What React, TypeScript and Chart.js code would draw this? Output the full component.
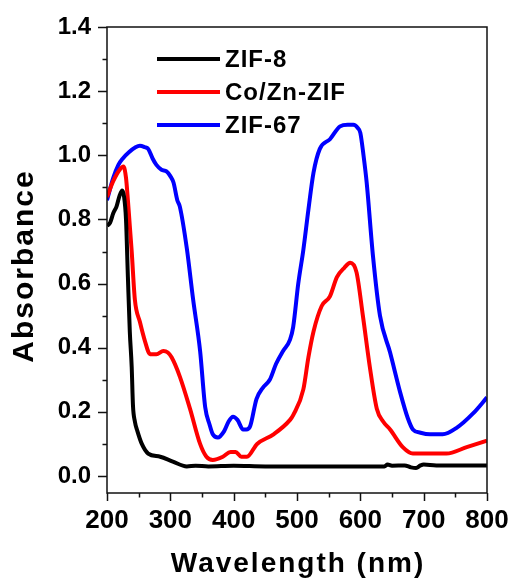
import React, { useEffect, useRef } from "react";
import { Chart, registerables } from "chart.js";

Chart.register(...registerables);

const FONT = "'Liberation Sans', Arial, sans-serif";

const SERIES_LABELS = ["ZIF-8", "Co/Zn-ZIF", "ZIF-67"];
const SERIES_COLORS = ["#000000", "#ff0000", "#0000ff"];

const X_TICKS = [200, 250, 300, 350, 400, 450, 500, 550, 600, 650, 700, 750, 800];
const Y_TICKS = [0, 0.1, 0.2, 0.3, 0.4, 0.5, 0.6, 0.7, 0.8, 0.9, 1.0, 1.1, 1.2, 1.3, 1.4];

const X_TITLE = "Wavelength (nm)";
const Y_TITLE = "Absorbance";

// ZIF-8
const zif8Wl = [200, 205, 210, 215, 220, 224, 227, 230, 233, 236, 239, 241, 244, 248, 255, 265, 284, 304, 326, 340, 360, 400, 450, 500, 550, 600, 638, 643, 650, 670, 680, 688, 695, 700, 720, 800];
const zif8Abs = [0.78, 0.79, 0.82, 0.84, 0.875, 0.89, 0.87, 0.8, 0.62, 0.45, 0.34, 0.22, 0.17, 0.14, 0.1, 0.07, 0.06, 0.045, 0.03, 0.032, 0.03, 0.032, 0.03, 0.03, 0.03, 0.03, 0.03, 0.036, 0.032, 0.033, 0.027, 0.025, 0.033, 0.036, 0.033, 0.033];

// Co/Zn-ZIF
const coznWl = [200, 210, 220, 226, 230, 233, 236, 239, 244, 252, 260, 268, 278, 289, 296, 302, 315, 331, 347, 357, 367, 383, 395, 403, 412, 421, 437, 463, 489, 494, 510, 518, 526, 539, 552, 563, 575, 584, 594, 604, 615, 626, 636, 647, 667, 683, 710, 736, 768, 800];
const coznAbs = [0.87, 0.92, 0.955, 0.965, 0.93, 0.86, 0.78, 0.7, 0.55, 0.48, 0.42, 0.38, 0.38, 0.39, 0.385, 0.37, 0.31, 0.21, 0.1, 0.06, 0.05, 0.06, 0.075, 0.075, 0.06, 0.06, 0.1, 0.13, 0.175, 0.19, 0.27, 0.37, 0.45, 0.53, 0.56, 0.62, 0.65, 0.665, 0.635, 0.5, 0.34, 0.21, 0.17, 0.145, 0.09, 0.07, 0.07, 0.07, 0.09, 0.11];

// ZIF-67
const zif67Wl = [200, 210, 218, 225, 235, 245, 252, 260, 265, 272, 278, 286, 294, 300, 305, 311, 315, 326, 336, 347, 355, 362, 367, 375, 385, 392, 399, 406, 415, 420, 426, 436, 446, 457, 467, 478, 489, 494, 502, 510, 518, 526, 536, 552, 568, 580, 589, 596, 600, 605, 610, 620, 631, 647, 663, 675, 683, 695, 710, 730, 752, 778, 800];
const zif67Abs = [0.86, 0.93, 0.97, 0.99, 1.01, 1.025, 1.03, 1.025, 1.02, 0.99, 0.97, 0.955, 0.95, 0.935, 0.915, 0.86, 0.84, 0.71, 0.55, 0.39, 0.215, 0.16, 0.13, 0.12, 0.14, 0.17, 0.185, 0.175, 0.145, 0.145, 0.155, 0.24, 0.275, 0.3, 0.35, 0.39, 0.425, 0.465, 0.6, 0.705, 0.83, 0.945, 1.02, 1.05, 1.09, 1.095, 1.095, 1.085, 1.07, 1.0, 0.915, 0.685, 0.5, 0.385, 0.26, 0.18, 0.145, 0.135, 0.13, 0.13, 0.15, 0.195, 0.245];

const SERIES_X = [zif8Wl, coznWl, zif67Wl];
const SERIES_Y = [zif8Abs, coznAbs, zif67Abs];

const decorPlugin = {
  id: "decor",
  afterDraw(chart: any) {
    const { ctx, chartArea: a, scales } = chart;
    ctx.save();
    ctx.strokeStyle = "#111";
    ctx.lineWidth = 1.5;
    ctx.strokeRect(a.left, a.top, a.right - a.left, a.bottom - a.top);
    ctx.beginPath();
    X_TICKS.forEach((v) => {
      const px = Math.round(scales.x.getPixelForValue(v)) + 0.5;
      const major = v % 100 === 0;
      ctx.moveTo(px, a.bottom);
      ctx.lineTo(px, a.bottom + (major ? 8 : 4.5));
    });
    Y_TICKS.forEach((v) => {
      const py = Math.round(scales.y.getPixelForValue(v)) + 0.5;
      const major = Math.round(v * 10) % 2 === 0;
      ctx.moveTo(a.left, py);
      ctx.lineTo(a.left - (major ? 9 : 4.5), py);
    });
    ctx.stroke();

    // legend
    const legendY = [59, 92, 125];
    SERIES_LABELS.forEach((lab, i) => {
      ctx.strokeStyle = SERIES_COLORS[i];
      ctx.lineWidth = 4;
      ctx.beginPath();
      ctx.moveTo(157, legendY[i]);
      ctx.lineTo(220, legendY[i]);
      ctx.stroke();
      ctx.fillStyle = "#000";
      ctx.font = `bold 24px ${FONT}`;
      (ctx as any).letterSpacing = "1px";
      ctx.textAlign = "left";
      ctx.textBaseline = "middle";
      ctx.fillText(lab, 225, legendY[i] + 1);
    });

    // axis titles
    ctx.fillStyle = "#000";
    ctx.font = `bold 28px ${FONT}`;
    (ctx as any).letterSpacing = "2px";
    ctx.textAlign = "center";
    ctx.textBaseline = "alphabetic";
    ctx.fillText(X_TITLE, (a.left + a.right) / 2 + 1, 572);

    ctx.save();
    ctx.translate(33, 266);
    ctx.rotate(-Math.PI / 2);
    ctx.font = `bold 30px ${FONT}`;
    (ctx as any).letterSpacing = "2px";
    ctx.textAlign = "center";
    ctx.textBaseline = "alphabetic";
    ctx.fillText(Y_TITLE, 0, 0);
    ctx.restore();

    ctx.restore();
  },
};

export default function App() {
  const ref = useRef<HTMLCanvasElement | null>(null);
  useEffect(() => {
    if (!ref.current) return;
    const datasets = SERIES_LABELS.map((lab, i) => ({
      label: lab,
      data: SERIES_X[i].map((x, j) => ({ x, y: SERIES_Y[i][j] })),
      borderColor: SERIES_COLORS[i],
      backgroundColor: SERIES_COLORS[i],
      borderWidth: 4,
      pointRadius: 0,
      cubicInterpolationMode: "monotone",
      fill: false,
    }));
    const chart = new Chart(ref.current, {
      type: "line",
      data: { datasets },
      options: {
        animation: false,
        responsive: false,
        devicePixelRatio: 1,
        layout: { padding: { top: 27, right: 25, bottom: 0, left: 0 } },
        plugins: { legend: { display: false }, tooltip: { enabled: false } },
        scales: {
          x: {
            type: "linear",
            min: 200,
            max: 800,
            afterBuildTicks: (s: any) => {
              s.ticks = X_TICKS.map((v) => ({ value: v }));
            },
            afterFit: (s: any) => {
              s.height = 85;
              s.paddingLeft = 0;
              s.paddingRight = 0;
            },
            grid: { display: false, drawTicks: false },
            border: { display: false },
            ticks: {
              autoSkip: false,
              maxRotation: 0,
              padding: 12,
              color: "#000",
              font: { family: FONT, size: 26, weight: "bold" },
              callback: (v: any) => (Number(v) % 100 === 0 ? String(v) : ""),
            },
          },
          y: {
            type: "linear",
            min: -0.053,
            max: 1.4,
            afterBuildTicks: (s: any) => {
              s.ticks = Y_TICKS.map((v) => ({ value: v }));
            },
            afterFit: (s: any) => {
              s.width = 107;
              s.paddingTop = 0;
              s.paddingBottom = 0;
            },
            grid: { display: false, drawTicks: false },
            border: { display: false },
            ticks: {
              autoSkip: false,
              padding: 16,
              color: "#000",
              font: { family: FONT, size: 24, weight: "bold" },
              callback: (v: any) =>
                Math.round(Number(v) * 10) % 2 === 0 ? Number(v).toFixed(1) : "",
            },
          },
        },
      },
      plugins: [decorPlugin],
    } as any);
    return () => chart.destroy();
  }, []);
  return (
    <div style={{ position: "absolute", left: 0, top: 0, width: 512, height: 578, background: "#fff" }}>
      <canvas ref={ref} width={512} height={578} style={{ width: 512, height: 578 }} />
    </div>
  );
}
